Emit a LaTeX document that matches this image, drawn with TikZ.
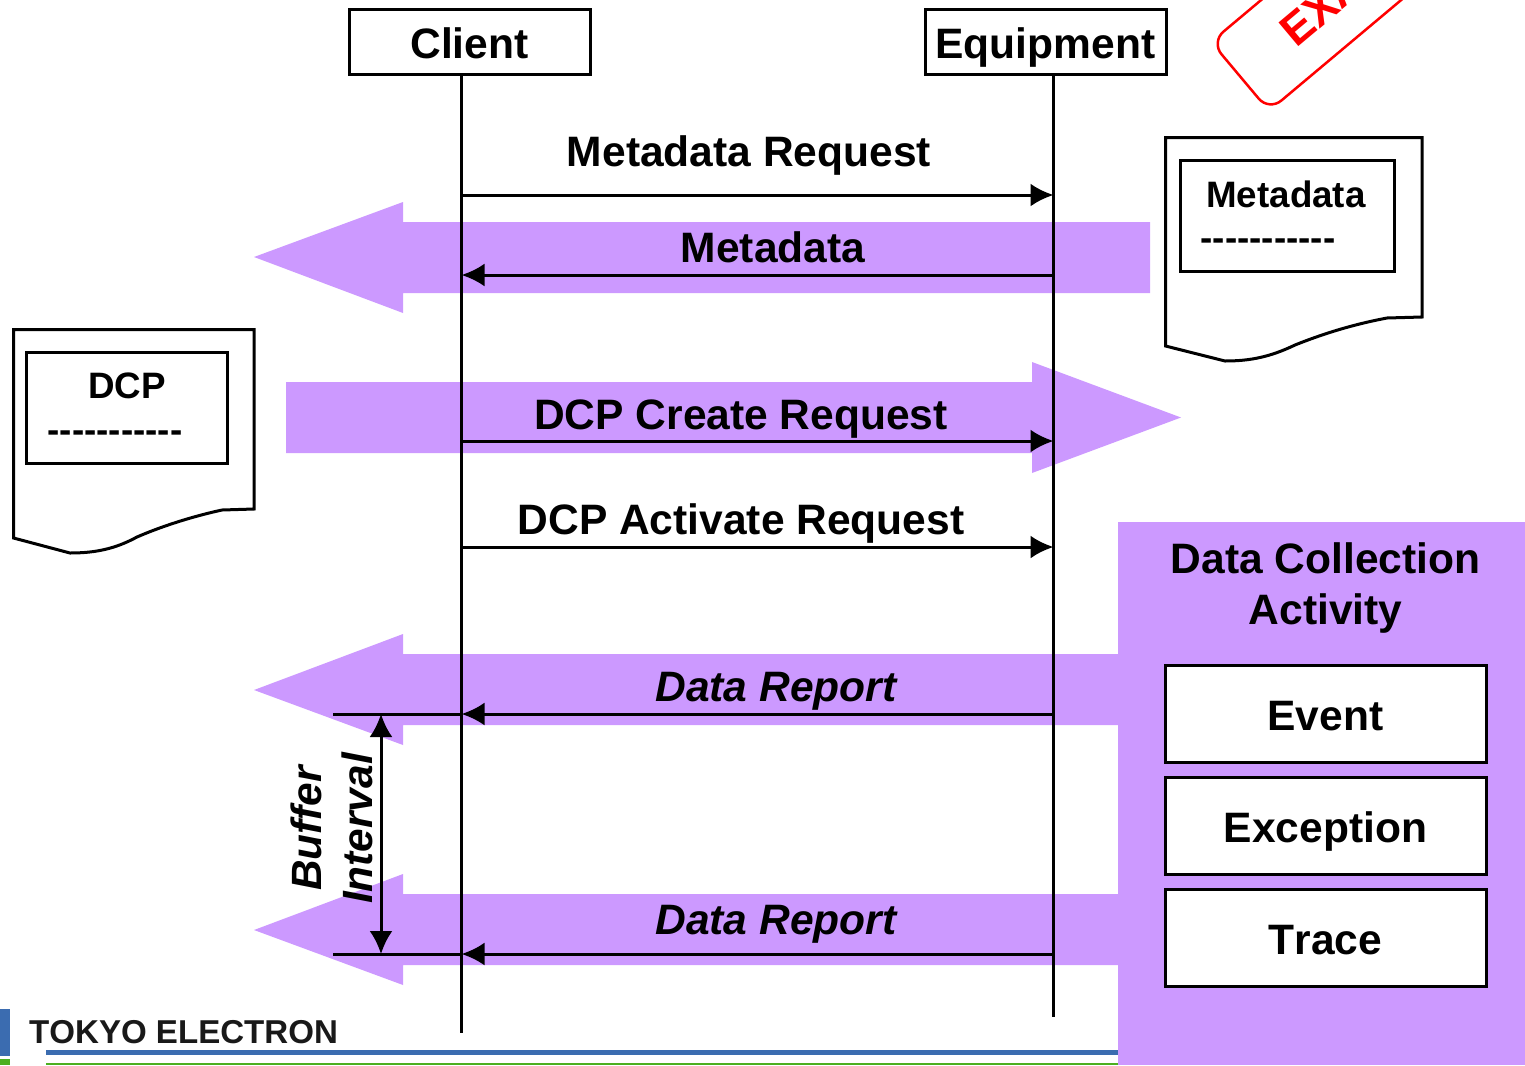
\documentclass[tikz,border=0pt]{standalone}
\usepackage{fontspec}
\usetikzlibrary{arrows.meta}
\newfontfamily\labelfont[Kerning=Off]{Liberation Sans}
\definecolor{bandcol}{RGB}{204,153,255}
\definecolor{logoblue}{RGB}{59,108,176}
\definecolor{logogreen}{RGB}{76,175,32}
\tikzset{
  msgtext/.style={font=\labelfont\bfseries\fontsize{42.7}{51}\selectfont,anchor=base},
  doctext/.style={font=\labelfont\bfseries\fontsize{36.9}{44}\selectfont,anchor=base},
  whitebox/.style={draw=black,line width=3bp,fill=white,inner sep=0pt,text height=33bp,text depth=0bp,
    font=\labelfont\bfseries\fontsize{42.7}{51}\selectfont},
  innerbox/.style={draw=black,line width=3bp,fill=white,inner sep=0pt},
  docpage/.style={draw=black,line width=3bp,fill=white},
  band/.style={fill=bandcol,draw=none},
  lifeline/.style={draw=black,line width=3bp},
  msg/.style={draw=black,line width=3bp,-{Latex[length=23bp,width=23bp]}},
}
\begin{document}
\begin{tikzpicture}[x=1bp,y=-1bp]
  \useasboundingbox (0,0) rectangle (1525,1065);
%%
  % Logo
  \fill [logoblue] (0,1009) rectangle (10,1056);
  \fill [logogreen] (0,1059) rectangle (10,1065);
  \fill [logoblue] (46,1050) rectangle (1118,1055);
  \fill [logogreen] (46,1063) rectangle (1118,1065);
  \node (logo) [font=\labelfont\bfseries\fontsize{33.2}{40}\selectfont,anchor=base west,inner sep=0pt,text=black!90] at (29,1043) {TOKYO ELECTRON};
  % Stamp
  \begin{scope}
    \clip (0,0) rectangle (1525,1065);
    \node (stamp) [draw=red,line width=2.5bp,fill=white,rotate=40,rounded corners=16bp,
      minimum width=300bp,minimum height=90bp,inner sep=0pt] at (1355,-20) {};
    \node (stamptext) [text=red,rotate=40,anchor=base west,inner sep=0pt,
      font=\labelfont\bfseries\fontsize{45}{54}\selectfont] at (1296,49) {EXA};
  \end{scope}
  % Bands
  \fill [band] (254,257) -- (403,202) -- (403,222) -- (1150,222) -- (1150,293) -- (403,293) -- (403,313) -- cycle;
  \fill [band] (1181,417.5) -- (1032,362) -- (1032,382) -- (286,382) -- (286,453) -- (1032,453) -- (1032,473) -- cycle;
  \fill [band] (254,690) -- (403,634) -- (403,654) -- (1118,654) -- (1118,725) -- (403,725) -- (403,745) -- cycle;
  \fill [band] (254,930) -- (403,874) -- (403,894) -- (1118,894) -- (1118,965) -- (403,965) -- (403,985) -- cycle;
  \fill [band] (1118,522) rectangle (1525,1065);
  % Node: Client
  \node (client) [whitebox,minimum width=241bp,minimum height=65bp] at (469.5,41.5) {Client};
  % Node: Equipment
  \node (equipment) [whitebox,minimum width=241bp,minimum height=65bp] at (1045.5,41.5) {Equipment};
  % Lifelines
  \coordinate (clientend) at (461.5,1033);
  \coordinate (equipmentend) at (1053.5,1017);
  \draw [lifeline] (clientend |- client.south) -- (clientend);
  \draw [lifeline] (equipmentend |- equipment.south) -- (equipmentend);
  % Edge: Client -> Equipment
  \coordinate (metareq) at (0,195);
  \draw [msg] (clientend |- metareq) -- (equipmentend |- metareq);
  \node (metareqtext) [msgtext] at (749,166) {Metadata Request};
  % Edge: Equipment -> Client
  \coordinate (metarep) at (0,275);
  \draw [msg] (equipmentend |- metarep) -- (clientend |- metarep);
  \node (metareptext) [msgtext] at (773,262) {Metadata};
  % Edge: Client -> Equipment
  \coordinate (dcpcreate) at (0,441);
  \draw [msg] (clientend |- dcpcreate) -- (equipmentend |- dcpcreate);
  \node (dcpcreatetext) [msgtext] at (741,429) {DCP Create Request};
  % Edge: Client -> Equipment
  \coordinate (dcpactivate) at (0,547);
  \draw [msg] (clientend |- dcpactivate) -- (equipmentend |- dcpactivate);
  \node (dcpactivatetext) [msgtext] at (741,534) {DCP Activate Request};
  % Edge: Equipment -> Client
  \coordinate (reportone) at (0,714);
  \coordinate (bufferone) at (333,714);
  \draw [msg] (equipmentend |- reportone) -- (clientend |- reportone);
  \draw [lifeline] (clientend |- reportone) -- (bufferone);
  \node (reportonetext) [msgtext,font=\labelfont\bfseries\itshape\fontsize{42.7}{51}\selectfont] at (776,701) {Data Report};
  % Edge: Equipment -> Client
  \coordinate (reporttwo) at (0,954);
  \coordinate (buffertwo) at (333,954);
  \draw [msg] (equipmentend |- reporttwo) -- (clientend |- reporttwo);
  \draw [lifeline] (clientend |- reporttwo) -- (buffertwo);
  \node (reporttwotext) [msgtext,font=\labelfont\bfseries\itshape\fontsize{42.7}{51}\selectfont] at (776,934) {Data Report};
  % Edge: Buffer Interval
  \coordinate (intervaltop) at (381,714);
  \coordinate (intervalbottom) at (381,954);
  \draw [lifeline,{Latex[length=23bp,width=23bp]}-{Latex[length=23bp,width=23bp]}] (intervaltop) -- (intervalbottom);
  \node (intervaltext) [rotate=90,align=center,inner sep=0pt,font=\labelfont\bfseries\itshape\fontsize{42.5}{51}\selectfont] at (332,828.5) {Buffer\\Interval};
  % Node: Metadata page
  \draw [docpage] (1165.5,137.5) -- (1422,137.5) -- (1422,317) -- (1387,318) .. controls (1350,325) and (1320,335) .. (1295,345) .. controls (1270,357) and (1250,361) .. (1225,361) -- (1165.5,346) -- cycle;
  \node (metabox) [innerbox,minimum width=214bp,minimum height=111bp] at (1287,215.5) {};
  \node (metatitle) [doctext] at (1286,207) {Metadata};
  \node (metadash) [doctext,anchor=base west,inner sep=0pt] at (1200.5,250.5) {-----------};
  % Node: DCP page
  \draw [docpage] (13.5,329.5) -- (254,329.5) -- (254,509) -- (222,510) .. controls (190,517) and (160,527) .. (137,537) .. controls (115,549) and (95,553) .. (70,553) -- (13.5,538) -- cycle;
  \node (dcpbox) [innerbox,minimum width=200bp,minimum height=111bp] at (127,407.5) {};
  \node (dcptitle) [doctext] at (127,398.5) {DCP};
  \node (dcpdash) [doctext,anchor=base west,inner sep=0pt] at (47.5,442.5) {-----------};
  % Node: Data Collection Activity
  \node (activitytitle) [align=center,inner sep=0pt,font=\labelfont\bfseries\fontsize{42.7}{51}\selectfont] at (1325.5,588) {Data Collection\\Activity};
  \node (event) [whitebox,minimum width=321bp,minimum height=97bp] at (1325.5,713.5) {Event};
  \node (exception) [whitebox,minimum width=321bp,minimum height=97bp] at (1325.5,825.5) {Exception};
  \node (trace) [whitebox,minimum width=321bp,minimum height=97bp] at (1325.5,937.5) {Trace};
%
\end{tikzpicture}
\end{document}
